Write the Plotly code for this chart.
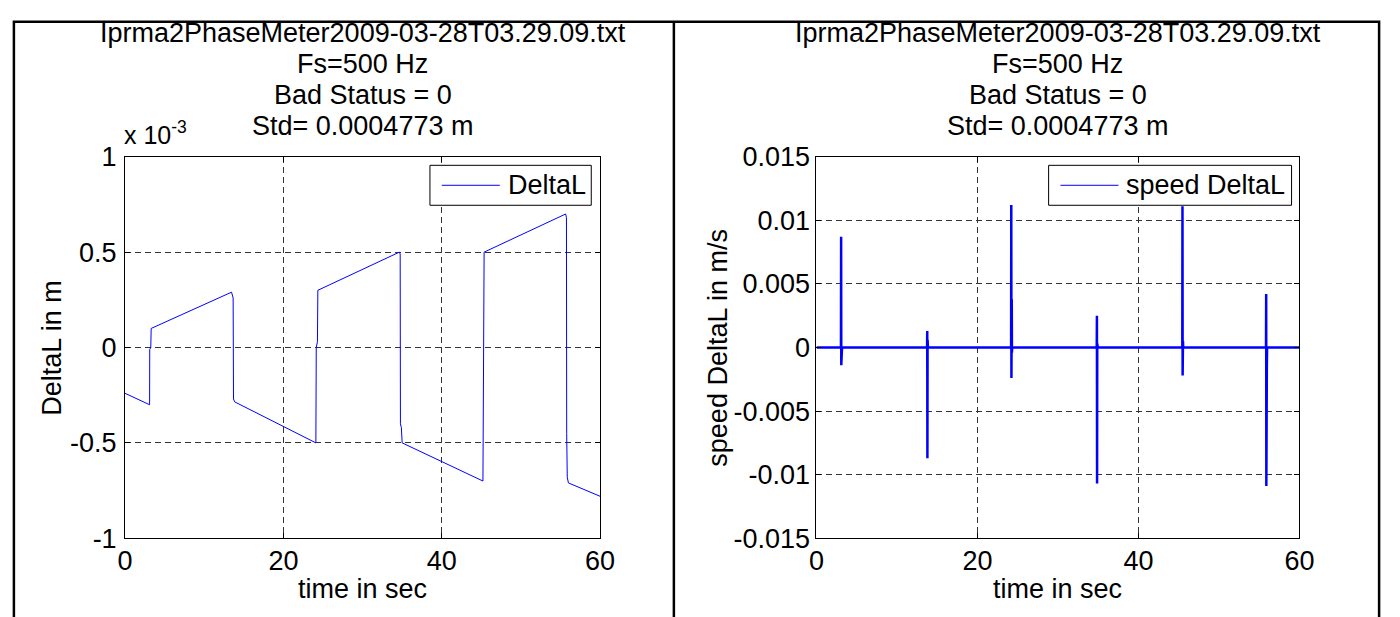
import plotly.graph_objects as go

W, H = 1400, 617
FONT = "Liberation Sans, Arial, sans-serif"
FS = 27

# DeltaL (units of 1e-3 m), breakpoints of the recorded trace
t_dl = [0, 3.1, 3.12, 3.25, 3.3, 13.45, 13.65, 13.7, 13.85, 24.1, 24.15, 24.3, 24.35,
        34.65, 34.75, 34.78, 34.9, 35.0, 45.2, 45.25, 45.3, 45.35, 55.65, 55.75, 55.78,
        55.85, 56.0, 60.0]
dl_e3 = [-0.24, -0.30, -0.01, 0.0, 0.10, 0.29, 0.26, -0.27, -0.285, -0.50, 0.0, 0.03, 0.30,
         0.50, 0.49, -0.40, -0.42, -0.50, -0.70, -0.06, -0.04, 0.50, 0.70, 0.68, -0.45,
         -0.68, -0.71, -0.78]

# speed of DeltaL in m/s
t_sp = [0, 3.04, 3.06, 3.08, 3.10, 3.12, 3.14, 3.17,
        13.74, 13.76, 13.78, 13.80, 13.82, 13.85,
        24.18, 24.20, 24.22, 24.24, 24.26, 24.28, 24.31,
        34.82, 34.84, 34.86, 34.88, 34.90, 34.92, 34.95,
        45.45, 45.47, 45.49, 45.51, 45.53, 45.56,
        55.85, 55.87, 55.89, 55.91, 55.93, 55.95, 55.98,
        60.0]
speed = [0, 0, 0.0087, -0.0014, 0.0046, -0.0006, 0.0022, 0.0,
         0, 0.0013, -0.0087, 0.0006, -0.0016, 0,
         0, 0.0112, -0.0024, 0.0055, 0.0038, -0.0004, 0,
         0, 0.0025, -0.0107, 0.0003, -0.0085, -0.0017, 0,
         0, 0.0111, -0.0022, 0.0065, 0.0005, 0,
         0, 0.0042, -0.0109, 0.0004, -0.008, -0.0015, 0,
         0]

x_ticks = [0, 20, 40, 60]
y1_ticks = [-1, -0.5, 0, 0.5, 1]
y1_labels = ["-1", "-0.5", "0", "0.5", "1"]
y2_ticks = [-0.015, -0.01, -0.005, 0, 0.005, 0.01, 0.015]
y2_labels = ["-0.015", "-0.01", "-0.005", "0", "0.005", "0.01", "0.015"]

title_lines = ["Iprma2PhaseMeter2009-03-28T03.29.09.txt", "Fs=500 Hz",
               "Bad Status = 0", "Std= 0.0004773 m"]

# plot-area pixel boxes
L = dict(x0=119, x1=602, y0=149, y1=550)
R = dict(x0=822, x1=1313, y0=149, y1=550)


def px(x):
    return x / W


def py(y):
    return 1 - y / H


fig = go.Figure()
fig.add_trace(go.Scatter(x=t_dl, y=dl_e3, mode="lines", name="DeltaL",
                         line=dict(color="#0000ff", width=1), xaxis="x", yaxis="y",
                         showlegend=False))
fig.add_trace(go.Scatter(x=t_sp, y=speed, mode="lines", name="speed DeltaL",
                         line=dict(color="#0000ff", width=2.5), xaxis="x2", yaxis="y2",
                         showlegend=False))

axis_common = dict(showline=True, linecolor="black", linewidth=1, mirror="ticks",
                   ticks="inside", ticklen=5, tickcolor="black", showgrid=True,
                   gridcolor="#333333", gridwidth=1, griddash="6px,4px", zeroline=False,
                   tickfont=dict(family=FONT, size=FS, color="black"))

fig.update_layout(
    width=W, height=H, margin=dict(l=0, r=0, t=0, b=0),
    paper_bgcolor="white", plot_bgcolor="white",
    xaxis=dict(domain=[px(L["x0"]), px(L["x1"])], range=[0, 60], tickvals=x_ticks,
               anchor="y", ticklabelstandoff=-2, **axis_common),
    yaxis=dict(domain=[py(L["y1"]), py(L["y0"])], range=[-1, 1], tickvals=y1_ticks,
               ticktext=y1_labels, anchor="x", ticklabelstandoff=2, **axis_common),
    xaxis2=dict(domain=[px(R["x0"]), px(R["x1"])], range=[0, 60], tickvals=x_ticks,
                anchor="y2", ticklabelstandoff=-2, **axis_common),
    yaxis2=dict(domain=[py(R["y1"]), py(R["y0"])], range=[-0.015, 0.015], tickvals=y2_ticks,
                ticktext=y2_labels, anchor="x2", ticklabelstandoff=0, **axis_common),
)

shapes = []
annotations = []

# outer frame and panel divider
shapes.append(dict(type="rect", xref="paper", yref="paper", x0=px(6), x1=px(1394),
                   y0=py(640), y1=py(7), line=dict(color="black", width=2.5)))
shapes.append(dict(type="line", xref="paper", yref="paper", x0=px(677), x1=px(677),
                   y0=py(7), y1=py(640), line=dict(color="black", width=2.5)))

for box, ylab, ylx in ((L, "DeltaL in m", 44), (R, "speed DeltaL in m/s", 721)):
    cx = (box["x0"] + box["x1"]) / 2
    for i, line in enumerate(title_lines):
        annotations.append(dict(xref="paper", yref="paper", x=px(cx), y=py(19 + 32.5 * i),
                                text=line, showarrow=False, xanchor="center", yanchor="middle",
                                font=dict(family=FONT, size=FS, color="black")))
    annotations.append(dict(xref="paper", yref="paper", x=px(cx), y=py(603), text="time in sec",
                            showarrow=False, xanchor="center", yanchor="middle",
                            font=dict(family=FONT, size=FS, color="black")))
    annotations.append(dict(xref="paper", yref="paper", x=px(ylx), y=py((box["y0"] + box["y1"]) / 2),
                            text=ylab, showarrow=False, textangle=-90, xanchor="center",
                            yanchor="middle", font=dict(family=FONT, size=FS, color="black")))

# exponent label of the left y axis
annotations.append(dict(xref="paper", yref="paper", x=px(116), y=py(124),
                        text="x 10<sup>-3</sup>", showarrow=False, xanchor="left", yanchor="middle",
                        font=dict(family=FONT, size=FS - 2, color="black")))

# legend boxes
legends = [(429, 593, "DeltaL"), (1058, 1305, "speed DeltaL")]
for lx0, lx1, name in legends:
    ly0, ly1 = 158, 200
    shapes.append(dict(type="rect", xref="paper", yref="paper", x0=px(lx0), x1=px(lx1),
                       y0=py(ly1), y1=py(ly0), line=dict(color="black", width=1),
                       fillcolor="white", layer="above"))
    shapes.append(dict(type="line", xref="paper", yref="paper", x0=px(lx0 + 12), x1=px(lx0 + 71),
                       y0=py(179), y1=py(179), line=dict(color="#0000ff", width=1), layer="above"))
    annotations.append(dict(xref="paper", yref="paper", x=px(lx0 + 77), y=py(179), text=name,
                            showarrow=False, xanchor="left", yanchor="middle",
                            font=dict(family=FONT, size=FS, color="black")))

fig.update_layout(shapes=shapes, annotations=annotations)
fig.write_html("out.html")
